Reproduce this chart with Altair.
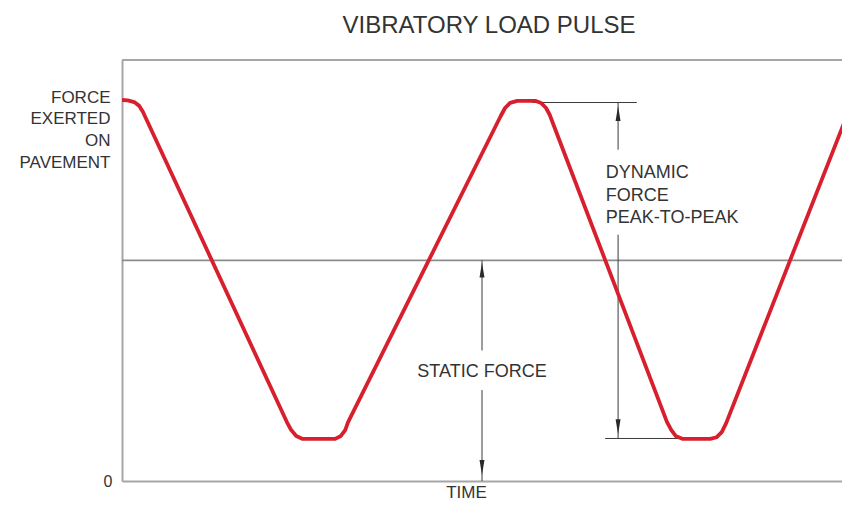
import altair as alt
import pandas as pd

# ---- data ----
chart_title = "VIBRATORY LOAD PULSE"
y_title = ["FORCE", "EXERTED", "ON", "PAVEMENT"]
x_title = "TIME"

# vibratory load pulse (time 0..100, force 0..100)
pulse_time = [0, 0.8, 1.7, 2.4, 2.9, 22.9, 23.5, 24.2, 25.1, 29.6, 30.4, 31.0, 31.4,
              52.6, 53.2, 53.9, 54.9, 57.4, 58.2, 58.9, 59.4, 75.7, 76.3, 76.9, 77.9,
              81.7, 82.6, 83.3, 83.9, 101.1]
pulse_force = [90.5, 90.4, 90.0, 89.1, 87.7, 14.0, 12.1, 10.7, 10.0, 10.0, 10.7, 12.1, 14.0,
               86.7, 88.6, 89.8, 90.3, 90.3, 89.8, 88.6, 87.0, 14.0, 12.1, 10.7, 10.0,
               10.0, 10.4, 11.6, 13.7, 88.6]

static_force = 52.4
peak_force = 89.9
trough_force = 10.1

# dimension lines (start time, start force, end time, end force)
dim_t1 = [50.0, 50.0, 57.0, 68.9, 68.9, 67.1]
dim_f1 = [static_force, 21.6, peak_force, peak_force, 58.5, trough_force]
dim_t2 = [50.0, 50.0, 71.5, 68.9, 68.9, 80.3]
dim_f2 = [31.0, 0.0, peak_force, 78.7, trough_force, trough_force]

# arrow heads (tip positions)
head_t = [50.0, 50.0, 68.9, 68.9]
head_f = [51.9, 1.4, 89.1, 11.1]
head_dir = ["up", "down", "up", "down"]

# annotation texts
label_text = ["STATIC FORCE", "DYNAMIC", "FORCE", "PEAK-TO-PEAK"]
label_t = [50.0, 67.2, 67.2, 67.2]
label_f = [24.6, 72.0, 66.6, 61.4]
label_align = ["c", "l", "l", "l"]

FONT = "Liberation Sans"
TXT = "#333333"
AX = "#a6a6a6"

pulse_df = pd.DataFrame({"t": pulse_time, "f": pulse_force})
dim_df = pd.DataFrame({"t": dim_t1, "f": dim_f1, "t2": dim_t2, "f2": dim_f2})
head_df = pd.DataFrame({"t": head_t, "f": head_f, "dir": head_dir})
lab_df = pd.DataFrame({"t": label_t, "f": label_f, "txt": label_text, "al": label_align})

xs = alt.Scale(domain=[0, 100], nice=False, zero=False)
ys = alt.Scale(domain=[0, 100], nice=False, zero=False)

x_enc = alt.X("t:Q", scale=xs, axis=alt.Axis(
    domain=True, domainColor=AX, domainWidth=2, ticks=False, labels=False, grid=False,
    title=x_title, titleFontSize=17, titleFontWeight="normal", titleColor=TXT, titleFont=FONT,
    titleX=344, titleY=16, titleAlign="center", titleBaseline="alphabetic"))
y_enc = alt.Y("f:Q", scale=ys, axis=alt.Axis(
    domain=True, domainColor=AX, domainWidth=2, ticks=False, grid=False, values=[0],
    labelFontSize=16, labelColor=TXT, labelFont=FONT, labelPadding=10, labelBaseline="middle",
    title=y_title, titleFontSize=17, titleFontWeight="normal", titleColor=TXT, titleFont=FONT,
    titleAngle=0, titleAlign="right", titleBaseline="alphabetic", titleX=-12, titleY=42,
    titleLineHeight=21.7))

base_frame = alt.Chart(pulse_df).mark_line(opacity=0).encode(x=x_enc, y=y_enc)

top_frame = alt.Chart(pd.DataFrame({"f": [100.0], "t": [0.0], "t2": [100.0]})).mark_rule(
    color=AX, strokeWidth=2).encode(x="t:Q", x2="t2:Q", y="f:Q")

static_line = alt.Chart(pd.DataFrame({"f": [static_force], "t": [0.0], "t2": [100.0]})).mark_rule(
    color="#8c8c8c", strokeWidth=1.6).encode(x="t:Q", x2="t2:Q", y="f:Q")

pulse = alt.Chart(pulse_df).mark_line(
    color="#d81f2d", strokeWidth=3.8, clip=True, strokeJoin="round", strokeCap="butt"
).encode(x="t:Q", y="f:Q", order="t:Q")

dims = alt.Chart(dim_df).mark_rule(color="#3a3a3a", strokeWidth=1).encode(
    x="t:Q", y="f:Q", x2="t2:Q", y2="f2:Q")

up_path = "M0,0L0.33,2L-0.33,2Z"
down_path = "M0,0L0.33,-2L-0.33,-2Z"
heads = alt.Chart(head_df).mark_point(filled=True, size=225, opacity=1, strokeWidth=0).encode(
    x="t:Q", y="f:Q",
    shape=alt.Shape("dir:N", scale=alt.Scale(domain=["up", "down"], range=[up_path, down_path]),
                    legend=None),
    color=alt.value("#2a2a2a"))

lab_c = alt.Chart(lab_df).transform_filter(alt.datum.al == "c").mark_text(
    font=FONT, fontSize=18, color=TXT, align="center", baseline="alphabetic"
).encode(x="t:Q", y="f:Q", text="txt:N")
lab_l = alt.Chart(lab_df).transform_filter(alt.datum.al == "l").mark_text(
    font=FONT, fontSize=18, color=TXT, align="left", baseline="alphabetic"
).encode(x="t:Q", y="f:Q", text="txt:N")

title_txt = alt.Chart(pd.DataFrame({"txt": [chart_title]})).mark_text(
    font=FONT, fontSize=24, color=TXT, align="center", baseline="alphabetic"
).encode(x=alt.value(367), y=alt.value(-27), text="txt:N")

chart = alt.layer(
    base_frame, top_frame, static_line, dims, heads, pulse, lab_c, lab_l, title_txt
).properties(
    width=720, height=421,
    autosize=alt.AutoSizeParams(type="none"),
    padding={"left": 114, "top": 52, "right": 0, "bottom": 21},
).configure_view(stroke=None).configure(font=FONT, background="white")

chart.save("out.html", embed_options={"renderer": "svg", "actions": False})
